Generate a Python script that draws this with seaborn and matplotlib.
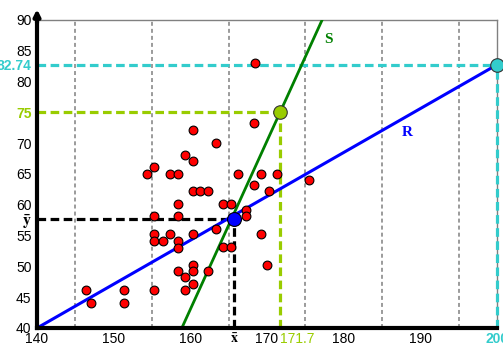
import numpy as np
import pandas as pd
import matplotlib
matplotlib.use("Agg")
import matplotlib.pyplot as plt
from matplotlib.ticker import MultipleLocator
import seaborn as sns

# ---- data ----
height = [168.4, 168.3, 160.3, 163.3, 159.3, 160.3, 155.3, 154.4, 157.4, 158.4,
          166.2, 169.2, 171.3, 168.3, 160.3, 161.3, 162.3, 170.2, 158.4, 164.3,
          165.3, 167.3, 155.3, 158.4, 167.3, 163.3, 155.3, 157.4, 160.3, 169.2,
          155.3, 156.4, 158.4, 158.4, 164.3, 165.3, 160.3, 170.0, 158.4, 160.3,
          162.3, 159.3, 160.3, 146.4, 151.4, 155.3, 159.3, 147.1, 151.3, 175.5]
weight = [83.0, 73.2, 72.2, 70.0, 68.1, 67.1, 66.1, 65.0, 65.0, 65.0,
          65.0, 65.0, 65.0, 63.2, 62.2, 62.2, 62.2, 62.2, 60.2, 60.2,
          60.2, 59.2, 58.1, 58.1, 58.1, 56.1, 55.2, 55.2, 55.2, 55.2,
          54.1, 54.1, 54.1, 53.0, 53.1, 53.1, 50.2, 50.2, 49.3, 49.2,
          49.2, 48.2, 47.2, 46.1, 46.1, 46.1, 46.1, 44.0, 44.0, 64.0]

x_mean, y_mean = 165.7, 57.7
# R : y = a_R + b_R * x   (regression of y on x)
a_R, b_R = -59.73, 0.7123
# S : x = c_S + d_S * y   (regression of x on y)
c_S, d_S = 144.25, 0.366
pred_S = (171.7, 75)     # point on S
pred_R = (200, 82.74)    # point on R

df = pd.DataFrame({"height": height, "weight": weight})

GREEN = "#99cc00"
CYAN = "#33cccc"

sns.set_theme(style="white")
plt.rcParams["font.family"] = ["Liberation Sans", "DejaVu Sans"]
plt.rcParams["mathtext.fontset"] = "stix"

fig = plt.figure(figsize=(5.03, 3.45), dpi=100)
ax = fig.add_axes([0.0736, 0.0493, 0.9145, 0.893])
ax.set_xlim(140, 200)
ax.set_ylim(40, 90)

# grid every 5 units
ax.xaxis.set_minor_locator(MultipleLocator(5))
ax.yaxis.set_minor_locator(MultipleLocator(5))
ax.grid(which="minor", color="#808080", lw=1.1, linestyle=(0, (2.6, 2.0)))
ax.grid(which="major", visible=False)

# guide lines
dash = (0, (2.7, 1.4))
ax.plot([140, x_mean], [y_mean, y_mean], color="black", lw=2.3, ls=dash, zorder=3)
ax.plot([x_mean, x_mean], [40, y_mean], color="black", lw=2.3, ls=dash, zorder=3)
ax.plot([140, pred_S[0]], [pred_S[1], pred_S[1]], color=GREEN, lw=2.3, ls=dash, zorder=3)
ax.plot([pred_S[0], pred_S[0]], [40, pred_S[1]], color=GREEN, lw=2.3, ls=dash, zorder=3)
ax.plot([140, pred_R[0]], [pred_R[1], pred_R[1]], color=CYAN, lw=2.3, ls=dash, zorder=3)
ax.plot([pred_R[0], pred_R[0]], [40, pred_R[1]], color=CYAN, lw=2.3, ls=dash, zorder=3, clip_on=False)

# regression lines
xs = np.array([140, 200])
ax.plot(xs, a_R + b_R * xs, color="#0000ff", lw=2.2, zorder=4)
ys = np.array([40, 90])
ax.plot(c_S + d_S * ys, ys, color="#008000", lw=2.0, zorder=4)

sns.scatterplot(data=df, x="height", y="weight", color="red", edgecolor="black",
                linewidth=0.8, s=40, zorder=5, ax=ax)
ax.scatter([x_mean], [y_mean], s=100, color="#0000ff", edgecolor="black", lw=0.8, zorder=6)
ax.scatter([pred_S[0]], [pred_S[1]], s=95, color=GREEN, edgecolor="#333333", lw=0.8, zorder=6)
ax.scatter([pred_R[0]], [pred_R[1]], s=95, color=CYAN, edgecolor="#333333", lw=0.8,
           zorder=6, clip_on=False)

ax.text(177.95, 86.75, "S", color="#008000", fontsize=11, fontweight="bold",
        family="Liberation Serif", ha="center", va="center")
ax.text(188.3, 71.65, "R", color="#0000ff", fontsize=11, fontweight="bold",
        family="Liberation Serif", ha="center", va="center")

# ticks
xt = [140, 150, 160, x_mean, 170, pred_S[0], 180, 190, 200]
xl = ["140", "150", "160", r"$\mathbf{\bar{x}}$", "170", "171.7", "180", "190", "200"]
yt = [40, 45, 50, 55, y_mean, 60, 65, 70, 75, 80, pred_R[1], 85, 90]
yl = ["40", "45", "50", "55", r"$\mathbf{\bar{y}}$", "60", "65", "70", "75", "80", "82.74", "85", "90"]
ax.set_xticks(xt)
ax.set_xticklabels(xl)
ax.set_yticks(yt)
ax.set_yticklabels(yl)
ax.tick_params(which="both", length=0, labelsize=10, colors="black")
ax.tick_params(axis="x", pad=3)
ax.tick_params(axis="y", pad=4)
ax.set_xlabel("")
ax.set_ylabel("")

xlabs = ax.get_xticklabels()
xlabs[3].set_fontsize(10)
xlabs[5].set_color(GREEN)
xlabs[5].set_ha("left")
xlabs[8].set_color(CYAN)
xlabs[8].set_fontweight("bold")
ylabs = ax.get_yticklabels()
ylabs[4].set_fontsize(11.5)
ylabs[8].set_color(GREEN)
ylabs[8].set_fontweight("bold")
ylabs[10].set_color(CYAN)
ylabs[10].set_fontweight("bold")

for side in ["top", "right"]:
    ax.spines[side].set_color("#808080")
    ax.spines[side].set_linewidth(1.0)
for side in ["left", "bottom"]:
    ax.spines[side].set_color("black")
    ax.spines[side].set_linewidth(3.0)
    ax.spines[side].set_zorder(7)

ax.annotate("", xy=(0, 1.035), xytext=(0, 0.99), xycoords="axes fraction",
            arrowprops=dict(arrowstyle="-|>", color="black", lw=3.0, mutation_scale=9,
                            shrinkA=0, shrinkB=0))

fig.savefig("out.png", dpi=100)
